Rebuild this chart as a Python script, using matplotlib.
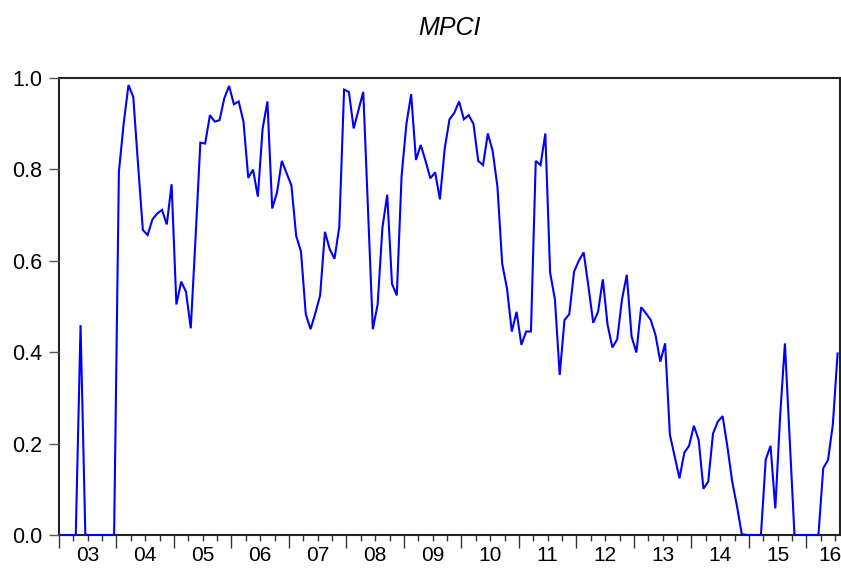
import numpy as np
import matplotlib
matplotlib.use("Agg")
import matplotlib.pyplot as plt

plt.rcParams['font.family'] = ['Liberation Sans', 'DejaVu Sans']

# Monthly MPCI values, 2003M01 - 2016M07
mpci_2003 = [0, 0, 0, 0, 0.459, 0, 0, 0, 0, 0, 0, 0]
mpci_2004 = [0.794, 0.900, 0.984, 0.958, 0.810, 0.667, 0.656, 0.690, 0.703, 0.711, 0.679, 0.767]
mpci_2005 = [0.504, 0.554, 0.532, 0.452, 0.650, 0.858, 0.856, 0.918, 0.904, 0.907, 0.955, 0.982]
mpci_2006 = [0.942, 0.948, 0.904, 0.781, 0.799, 0.740, 0.889, 0.948, 0.714, 0.749, 0.818, 0.791]
mpci_2007 = [0.765, 0.654, 0.620, 0.483, 0.450, 0.485, 0.524, 0.663, 0.625, 0.604, 0.674, 0.974]
mpci_2008 = [0.969, 0.889, 0.929, 0.969, 0.710, 0.450, 0.504, 0.672, 0.744, 0.549, 0.524, 0.785]
mpci_2009 = [0.898, 0.964, 0.820, 0.853, 0.818, 0.780, 0.793, 0.734, 0.845, 0.909, 0.923, 0.948]
mpci_2010 = [0.909, 0.918, 0.899, 0.818, 0.809, 0.878, 0.840, 0.762, 0.593, 0.539, 0.445, 0.488]
mpci_2011 = [0.416, 0.445, 0.445, 0.818, 0.809, 0.878, 0.574, 0.515, 0.350, 0.470, 0.483, 0.576]
mpci_2012 = [0.600, 0.618, 0.543, 0.464, 0.488, 0.559, 0.459, 0.410, 0.428, 0.515, 0.569, 0.434]
mpci_2013 = [0.399, 0.498, 0.485, 0.470, 0.437, 0.379, 0.419, 0.219, 0.171, 0.124, 0.180, 0.195]
mpci_2014 = [0.239, 0.208, 0.101, 0.117, 0.222, 0.248, 0.260, 0.193, 0.117, 0.063, 0.002, 0]
mpci_2015 = [0, 0, 0, 0.165, 0.195, 0.058, 0.259, 0.419, 0.208, 0, 0, 0]
mpci_2016 = [0, 0, 0, 0.146, 0.164, 0.241, 0.397]

year_labels = ["03", "04", "05", "06", "07", "08", "09", "10", "11", "12", "13", "14", "15", "16"]
y_ticks = [0.0, 0.2, 0.4, 0.6, 0.8, 1.0]

values = np.array(mpci_2003 + mpci_2004 + mpci_2005 + mpci_2006 + mpci_2007 +
                  mpci_2008 + mpci_2009 + mpci_2010 + mpci_2011 + mpci_2012 +
                  mpci_2013 + mpci_2014 + mpci_2015 + mpci_2016)
n = len(values)
x = np.arange(n) + 0.5

fig = plt.figure(figsize=(8.41, 5.68), dpi=100)
ax = fig.add_axes([59/841, 1 - 535/568, (840 - 59)/841, (535 - 77.7)/568])

ax.plot(x, values, color='#0000FF', lw=1.5, solid_joinstyle='miter',
        zorder=5, clip_on=False)

ax.set_xlim(0, n)
ax.set_ylim(0, 1.0)

# y axis
ax.set_yticks(y_ticks)
ax.set_yticklabels([f"{v:.1f}" for v in y_ticks], fontsize=15.5)
ax.tick_params(axis='y', direction='out', length=7, width=1.0, color='#555555', pad=5)

# x axis: year boundaries (major), quarters (minor), labels at mid-year
year_starts = np.arange(0, n + 1, 12)
ax.set_xticks(year_starts[year_starts <= n])
ax.set_xticklabels([])
ax.set_xticks(np.arange(0, n + 1, 3), minor=True)
ax.tick_params(axis='x', which='major', direction='out', length=9, width=1.0, color='#333333')
ax.tick_params(axis='x', which='minor', direction='out', length=4.5, width=1.0, color='#333333')

label_pos = [min(12 * i + 6, n - 2.1) for i in range(len(year_labels))]
sec = ax.secondary_xaxis('bottom')
sec.set_xticks(label_pos)
sec.set_xticklabels(year_labels, fontsize=15)
sec.tick_params(length=0, pad=8)
sec.spines['bottom'].set_visible(False)

for s in ax.spines.values():
    s.set_linewidth(1.5)
    s.set_color('#222222')
    s.set_zorder(1)

ax.set_title("MPCI", fontsize=18, style='italic', pad=31)

fig.savefig("out.png", dpi=100)
